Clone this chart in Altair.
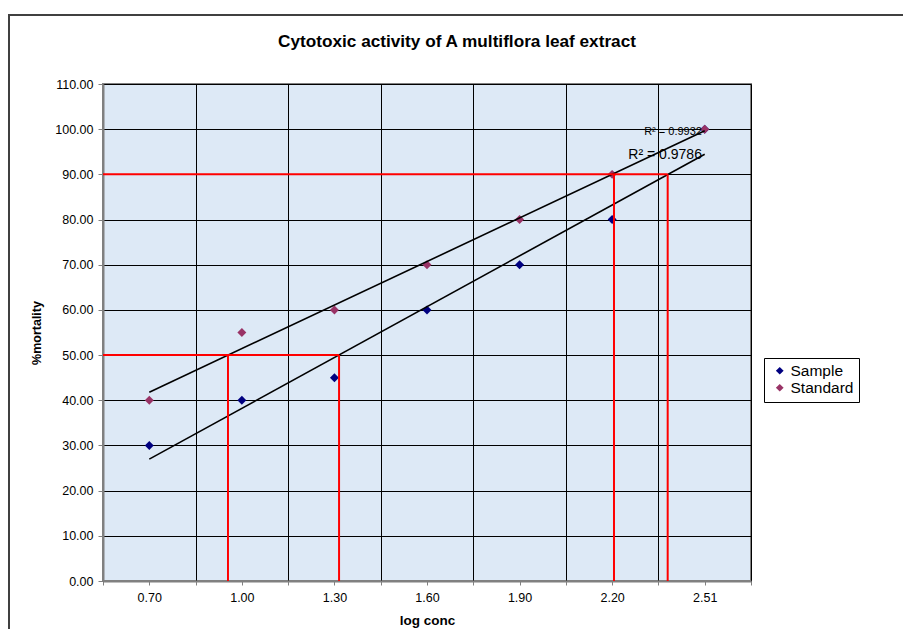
import altair as alt
import pandas as pd

FONT = "Liberation Sans, Arial, sans-serif"

# --- data -----------------------------------------------------------------
categories = ["0.70", "1.00", "1.30", "1.60", "1.90", "2.20", "2.51"]
sample = [30, 40, 45, 60, 70, 80, 100]
standard = [40, 55, 60, 70, 80, 90, 100]
series_names = ["Sample", "Standard"]
series_colors = ["#000080", "#993366"]

# trendline crossings drawn in red (position on category axis, % mortality)
red_pos = [1.35, 2.55, 5.52, 6.10]
red_level = [50, 50, 90, 90]
red_h_level = [50, 90]
red_h_end = [2.55, 6.10]

# R^2 annotations
r2_text = ["R\u00b2 = 0.9932", "R\u00b2 = 0.9786"]
r2_pos = [6.47, 6.47]
r2_val = [99.4, 94.2]
r2_size = [11, 14]

# --- tables ------------------------------------------------------------------
pos = [i + 0.5 for i in range(len(categories))]
pts = pd.DataFrame(
    {"pos": pos * 2,
     "value": sample + standard,
     "series": ["Sample"] * len(sample) + ["Standard"] * len(standard)}
)
red_v = pd.DataFrame({"pos": red_pos, "level": red_level, "zero": [0] * len(red_pos)})
red_h = pd.DataFrame({"level": red_h_level, "end": red_h_end, "start": [0] * len(red_h_level)})
r2 = pd.DataFrame({"t": r2_text, "pos": r2_pos, "val": r2_val, "fs": r2_size})
frame = pd.DataFrame({"k": [0]})

labels_js = "[" + ",".join(f"'{c}'" for c in categories) + "]"
ncat = len(categories)

xscale = alt.Scale(domain=[0, ncat], nice=False, zero=False)
yscale = alt.Scale(domain=[0, 110], nice=False)

xaxis = alt.Axis(
    values=[i * 0.5 for i in range(2 * ncat + 1)],
    labelExpr=f"datum.value % 1 == 0.5 ? {labels_js}[floor(datum.value)] : ''",
    grid=True,
    gridColor="#000000",
    gridWidth=1,
    gridOpacity={"condition": {"test": "datum.value % 1 == 0", "value": 1}, "value": 0},
    tickColor="#808080",
    tickSize=4,
    domainColor="#808080",
    domainWidth=2,
    labelFont=FONT,
    labelFontSize=12.5,
    labelColor="#000000",
    labelPadding=6,
    title="log conc",
    titleFont=FONT,
    titleFontSize=13.5,
    titleFontWeight="bold",
    titleColor="#000000",
    titlePadding=10,
)
yaxis = alt.Axis(
    values=list(range(0, 111, 10)),
    format=".2f",
    grid=True,
    gridColor="#000000",
    gridWidth=1,
    tickColor="#808080",
    tickSize=5,
    domainColor="#808080",
    domainWidth=2,
    labelFont=FONT,
    labelFontSize=12.5,
    labelColor="#000000",
    labelPadding=5,
    title="%mortality",
    titleFont=FONT,
    titleFontSize=12.5,
    titleFontWeight="bold",
    titleColor="#000000",
    titlePadding=11,
)

points = alt.Chart(pts).mark_point(shape="diamond", filled=True, size=80, opacity=1).encode(
    x=alt.X("pos:Q", scale=xscale, axis=xaxis),
    y=alt.Y("value:Q", scale=yscale, axis=yaxis),
    color=alt.Color(
        "series:N",
        scale=alt.Scale(domain=series_names, range=series_colors),
        legend=alt.Legend(
            title=None,
            orient="none",
            legendX=661,
            legendY=274,
            strokeColor="#000000",
            fillColor="#ffffff",
            padding=5,
            symbolType="diamond",
            symbolSize=60,
            labelFont=FONT,
            labelFontSize=15.5,
            labelColor="#000000",
            labelOffset=3,
            rowPadding=0,
            symbolOffset=3,
        ),
    ),
)

trend = alt.Chart(pts).transform_regression(
    "pos", "value", groupby=["series"]
).mark_line(color="#000000", strokeWidth=1.6).encode(
    x=alt.X("pos:Q", scale=xscale),
    y=alt.Y("value:Q", scale=yscale),
    detail="series:N",
)

red_vertical = alt.Chart(red_v).mark_rule(color="#ff0000", strokeWidth=2).encode(
    x=alt.X("pos:Q", scale=xscale),
    y=alt.Y("zero:Q", scale=yscale),
    y2="level:Q",
)
red_horizontal = alt.Chart(red_h).mark_rule(color="#ff0000", strokeWidth=2).encode(
    x=alt.X("start:Q", scale=xscale),
    x2="end:Q",
    y=alt.Y("level:Q", scale=yscale),
)

r2_text_layer = alt.Chart(r2).mark_text(
    align="right", baseline="middle", font=FONT, color="#000000"
).encode(
    x=alt.X("pos:Q", scale=xscale),
    y=alt.Y("val:Q", scale=yscale),
    text="t:N",
    size=alt.Size("fs:Q", scale=None, legend=None),
)

border = alt.Chart(frame).mark_rect(
    fill=None, stroke="#404040", strokeWidth=2
).encode(
    x=alt.value(-94), x2=alt.value(830), y=alt.value(-69), y2=alt.value(580)
)

chart = alt.layer(
    points, trend, red_vertical, red_horizontal, r2_text_layer, border
).properties(
    width=648,
    height=497,
    title=alt.TitleParams(
        "Cytotoxic activity of A multiflora leaf extract",
        font=FONT,
        fontSize=17.2,
        fontWeight="bold",
        color="#000000",
        anchor="middle",
        dx=30,
        offset=-36,
    ),
    autosize=alt.AutoSizeParams(type="none"),
    padding={"left": 95, "top": 76, "right": 152, "bottom": 48},
    background="#ffffff",
).configure_view(
    fill="#dde9f6", stroke="#808080", strokeWidth=2
)

chart.save("out.html", embed_options={"renderer": "svg", "actions": False})
